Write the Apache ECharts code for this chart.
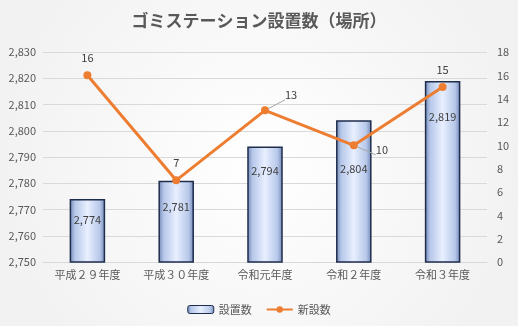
<!DOCTYPE html>
<html><head><meta charset="utf-8">
<script src="https://cdn.jsdelivr.net/npm/echarts@6/dist/echarts.min.js"></script>
<style>html,body{margin:0;padding:0;background:#fff}#c{width:518px;height:326px}</style>
</head><body><div id="c"></div>
<script>
const categories = ['平成２９年度','平成３０年度','令和元年度','令和２年度','令和３年度'];
const installed = [2774, 2781, 2794, 2804, 2819];
const newCount = [16, 7, 13, 10, 15];
const leftTicks = {min: 2750, max: 2830, interval: 10};
const rightTicks = {min: 0, max: 18, interval: 2};

const font = '"Noto Sans CJK JP", "Noto Sans", sans-serif';
const barFill = {
  type: 'linear', x: 0, y: 0, x2: 1, y2: 0,
  colorStops: [
    {offset: 0, color: '#6f86b3'},
    {offset: 0.15, color: '#b7c8ea'},
    {offset: 0.5, color: '#e8efff'},
    {offset: 0.85, color: '#b7c8ea'},
    {offset: 1, color: '#6f86b3'}
  ]
};
const barLabelOffsets = [3, 9, 7, 31, 18];
const lineLabelPos = ['top', 'top', 'right', 'right', 'top'];
const lineLabelOffsets = [[0,0],[0,0],[8,-16],[10,4],[0,0]];

const chart = echarts.init(document.getElementById('c'), null, {renderer: 'canvas'});
chart.setOption({
  backgroundColor: {
    type: 'radial', x: 0.5, y: 0.5, r: 0.8,
    colorStops: [{offset: 0, color: '#ffffff'}, {offset: 1, color: '#f2f2f2'}]
  },
  textStyle: {fontFamily: font},
  title: {
    text: 'ゴミステーション設置数（場所）', left: 'center', top: 7,
    textStyle: {fontSize: 17, fontWeight: 'bold', color: '#595959', fontFamily: font}
  },
  legend: {
    bottom: 6, left: 'center', itemGap: 14, itemWidth: 26, itemHeight: 8,
    textStyle: {fontSize: 11, color: '#595959'},
    data: [
      {name: '設置数', itemStyle: {color: barFill, borderColor: '#1f2d4d', borderWidth: 1}},
      {name: '新設数'}
    ]
  },
  grid: {left: 43, right: 31, top: 52, bottom: 64},
  xAxis: {
    type: 'category', data: categories,
    axisLine: {show: true, lineStyle: {color: '#d9d9d9'}},
    axisTick: {show: false},
    axisLabel: {fontSize: 11, color: '#595959', margin: 7}
  },
  yAxis: [
    {
      type: 'value', min: leftTicks.min, max: leftTicks.max, interval: leftTicks.interval,
      axisLine: {show: false}, axisTick: {show: false},
      splitLine: {lineStyle: {color: '#d9d9d9'}},
      axisLabel: {fontSize: 11, color: '#595959', margin: 7,
        formatter: v => v.toLocaleString('en-US')}
    },
    {
      type: 'value', min: rightTicks.min, max: rightTicks.max, interval: rightTicks.interval,
      axisLine: {show: false}, axisTick: {show: false}, splitLine: {show: false},
      axisLabel: {fontSize: 11, color: '#595959', margin: 10}
    }
  ],
  series: [
    {
      name: '設置数', type: 'bar', yAxisIndex: 0, barWidth: '40%',
      itemStyle: {color: barFill, borderColor: '#1f2d4d', borderWidth: 1.5},
      data: installed.map((v, i) => ({
        value: v,
        label: {offset: [0, barLabelOffsets[i]]}
      })),
      label: {
        show: true, position: 'insideTop', distance: 12, fontSize: 11, color: '#404040',
        formatter: p => p.value.toLocaleString('en-US')
      },
      z: 2
    },
    {
      name: '新設数', type: 'line', yAxisIndex: 1,
      symbol: 'circle', symbolSize: 8,
      lineStyle: {color: '#ed7d31', width: 3},
      itemStyle: {color: '#ed7d31'},
      data: newCount.map((v, i) => ({
        value: v,
        label: {position: lineLabelPos[i], offset: lineLabelOffsets[i]},
        labelLine: {show: i === 2 || i === 3, lineStyle: {color: '#a6a6a6'}}
      })),
      label: {show: true, fontSize: 11, color: '#404040', distance: 8},
      labelLayout: {},
      labelLine: {show: false},
      z: 3
    }
  ]
});
</script></body></html>
